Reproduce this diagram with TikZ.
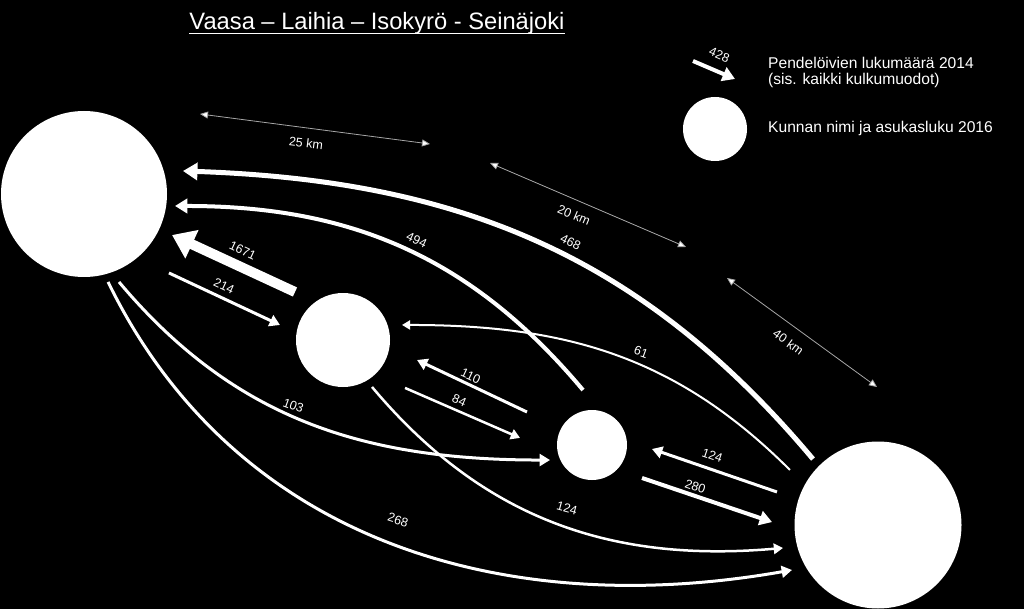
\documentclass[tikz,border=0pt]{standalone}
\usepackage{fontspec}
\setmainfont{Liberation Sans}
\usetikzlibrary{arrows.meta}

\begin{document}
\begin{tikzpicture}[x=1pt, y=1pt,
    town/.style={circle, fill=white, inner sep=0pt, outer sep=0pt},
    flow/.style={draw=white, line width=#1, -{Triangle[width=4pt 2.6, length=4pt 2.1]}},
    dist/.style={draw=gray!70, line width=0.8pt,
        {Triangle[width=7pt, length=8pt, fill=white]}-{Triangle[width=7pt, length=8pt, fill=white]}},
    num/.style={text=white, inner sep=0pt, font=\fontsize{12.5}{15}\selectfont},
    legendtext/.style={text=white, inner sep=0pt, anchor=base west, font=\fontsize{15.6}{18}\selectfont}]

    % Background
    \fill[black] (0,0) rectangle (1024,-609);
    \useasboundingbox (0,0) rectangle (1024,-609);

    % Title
    \node[text=white, inner sep=0pt, anchor=base, font=\fontsize{23.7}{28}\selectfont] (title) at (377,-30) {Vaasa – Laihia – Isokyrö - Seinäjoki};
    \draw[white, line width=1.5pt] ([yshift=-3.5pt]title.base west) -- ([yshift=-3.5pt]title.base east);

    % Towns
    \node[town, minimum size=166pt] (vaasa) at (84,-194) {};
    \node[town, minimum size=94pt] (laihia) at (343,-340) {};
    \node[town, minimum size=70pt] (isokyro) at (592,-445) {};
    \node[town, minimum size=167pt] (seinajoki) at (878,-525) {};

    % Long curved flows
    \draw[flow=5pt] ([shift={(134.6:92.6)}]seinajoki.center) to[out=130,in=-2] ([shift={(13.1:101.6)}]vaasa.center);
    \draw[flow=4pt] ([shift={(99.3:55.7)}]isokyro.center) to[out=130,in=0] ([shift={(-7.5:91.8)}]vaasa.center);
    \draw[flow=2pt] ([shift={(148:103.8)}]seinajoki.center) to[out=135,in=0] ([shift={(14.3:60.9)}]laihia.center);
    \draw[flow=3pt] ([shift={(-68.3:94.7)}]vaasa.center) to[out=-50,in=180] ([shift={(199.7:44.6)}]isokyro.center);
    \draw[flow=3pt] ([shift={(-74.7:91.2)}]vaasa.center) to[out=-64,in=190] ([shift={(207.6:97.1)}]seinajoki.center);
    \draw[flow=2.5pt] ([shift={(-58.3:55.2)}]laihia.center) to[out=-50,in=185] ([shift={(193.6:97.7)}]seinajoki.center);

    % Straight flows
    \draw[flow=10pt, -{Triangle[width=0pt 3, length=0pt 2.2]}] ([shift={(135:67.9)}]laihia.center) -- ([shift={(-25:97.1)}]vaasa.center);
    \draw[flow=3pt] ([shift={(-42.9:116)}]vaasa.center) -- ([shift={(166.6:64.8)}]laihia.center);
    \draw[flow=3pt] ([shift={(153.1:72.9)}]isokyro.center) -- ([shift={(-15.1:76.7)}]laihia.center);
    \draw[flow=2.5pt] ([shift={(-37.7:78.4)}]laihia.center) -- ([shift={(174.4:72.3)}]isokyro.center);
    \draw[flow=3pt] ([shift={(161.9:106.3)}]seinajoki.center) -- ([shift={(-3.8:60.1)}]isokyro.center);
    \draw[flow=4pt] ([shift={(-33.4:59.9)}]isokyro.center) -- ([shift={(178.4:106)}]seinajoki.center);

    % Flow labels
    \node[num, rotate=-26] (l468) at (570.7,-242.3) {468};
    \node[num, rotate=-25] (l494) at (416.7,-240) {494};
    \node[num, rotate=-25] (l1671) at (242.7,-250.7) {1671};
    \node[num, rotate=-25] (l214) at (224,-286) {214};
    \node[num, rotate=-20] (l103) at (293.3,-405.7) {103};
    \node[num, rotate=-18] (l268) at (398,-520) {268};
    \node[num, rotate=-15] (l124a) at (567,-508) {124};
    \node[num, rotate=-20] (l61) at (641,-352) {61};
    \node[num, rotate=-25] (l110) at (470.7,-376) {110};
    \node[num, rotate=-24] (l84) at (459.3,-400.7) {84};
    \node[num, rotate=-19] (l124b) at (712.3,-455.7) {124};
    \node[num, rotate=-19] (l280) at (695.3,-486.7) {280};

    % Distances
    \coordinate (d25a) at (200,-114);
    \coordinate (d25b) at (430,-144);
    \coordinate (d20a) at (490,-163);
    \coordinate (d20b) at (686,-247);
    \coordinate (d40a) at (727,-278);
    \coordinate (d40b) at (877,-387);
    \draw[dist] (d25a) -- (d25b);
    \draw[dist] (d20a) -- (d20b);
    \draw[dist] (d40a) -- (d40b);
    \node[num, rotate=-7] (k25) at (306,-143) {25 km};
    \node[num, rotate=-23] (k20) at (574,-215) {20 km};
    \node[num, rotate=-36] (k40) at (788.3,-342.3) {40 km};

    % Legend
    \coordinate (lga) at (693,-61);
    \coordinate (lgb) at (735,-79);
    \draw[flow=4pt] (lga) -- (lgb);
    \node[num, rotate=-23] (l428) at (719.3,-55) {428};
    \node[town, minimum size=64pt] (legendtown) at (715,-129) {};
    \node[legendtext] (leg1) at (768,-69) {Pendelöivien lukumäärä 2014};
    \node[legendtext] (leg2) at (768,-85) {(sis. kaikki kulkumuodot)};
    \node[legendtext] (leg3) at (768,-133) {Kunnan nimi ja asukasluku 2016};
\end{tikzpicture}
\end{document}
